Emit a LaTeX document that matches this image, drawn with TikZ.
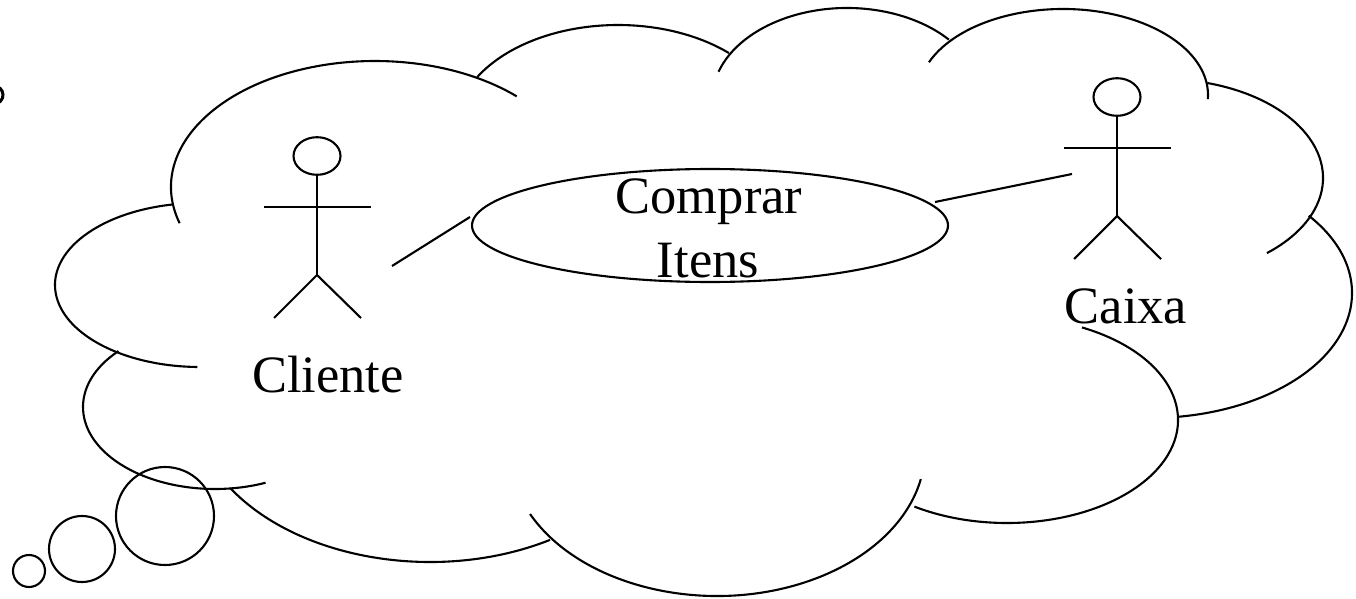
\documentclass[tikz,border=0pt]{standalone}
\usepackage{fontspec}
\setmainfont{Liberation Serif}
\usetikzlibrary{shapes.geometric}

\tikzset{
  stroke/.style={line width=2.1pt, line cap=butt, line join=round},
  lbl/.style={inner sep=0pt, anchor=base, font=\fontsize{52.5}{63}\selectfont},
  usecase/.style={stroke, draw, ellipse, inner sep=0pt,
                  minimum width=476pt, minimum height=113pt},
  bubble/.style={stroke, draw, circle, inner sep=0pt},
  pics/actor/.style={code={
    \draw[stroke] (0,0) ellipse [x radius=23.5, y radius=18.8];
    \draw[stroke] (0,18.8) -- (0,119);
    \draw[stroke] (-53,51) -- (54,51);
    \draw[stroke] (-43,162) -- (0,119) -- (44,162);
  }}
}

% one lobe of the cloud: centre x, centre y, x radius, y radius, start, end
\newcommand\lobe[6]{%
  \draw[stroke] (#1,#2) ++(#5:#3 and #4)
    arc[start angle=#5, end angle=#6, x radius=#3, y radius=#4];}

\begin{document}
\begin{tikzpicture}[x=1pt, y=-1pt]
\useasboundingbox (0,0) rectangle (1356,599);

% thought cloud
\lobe{375}{187}{204}{126}{163.3}{314}
\lobe{618}{130}{163}{105}{210.3}{312.9}
\lobe{847}{100}{135}{92}{197.9}{319}
\lobe{1063}{95}{145}{86}{202.4}{362.7}
\lobe{1162}{178}{161}{99}{286.3}{409.3}
\lobe{1150}{293}{202}{125}{-38.2}{82}
\lobe{1007}{420}{171}{103}{-64}{122.8}
\lobe{717}{450}{208}{146}{154}{11.5}
\lobe{430}{400}{238}{162}{147.1}{59.7}
\lobe{215}{407}{132}{82}{223}{67.5}
\lobe{200}{285}{145}{82}{259}{91}

% trailing bubbles
\node[bubble, minimum size=98pt] (b1) at (165,516) {};
\node[bubble, minimum size=66pt] (b2) at (82,549) {};
\node[bubble, minimum size=32pt] (b3) at (29,571) {};

% fragment at the left edge
\draw[line width=3pt] (-6,95) ++(-70:9) arc[start angle=-70, end angle=70, radius=9];

% actors
\pic at (317,156) {actor};
\pic at (1117,97) {actor};
\node[lbl] (cliente) at (328,392) {Cliente};
\node[lbl] (caixa) at (1126,323) {Caixa};

% use case
\node[usecase] (uc) at (710,225.5) {};
\node[lbl] (comprar) at (709,213) {Comprar};
\node[lbl] (itens) at (708,277) {Itens};

% associations
\coordinate (clientehand) at (392,266);
\coordinate (ucwest) at (470,217);
\coordinate (uceast) at (935,202);
\coordinate (caixahand) at (1072,174);
\draw[stroke] (clientehand) -- (ucwest);
\draw[stroke] (uceast) -- (caixahand);
\end{tikzpicture}
\end{document}
